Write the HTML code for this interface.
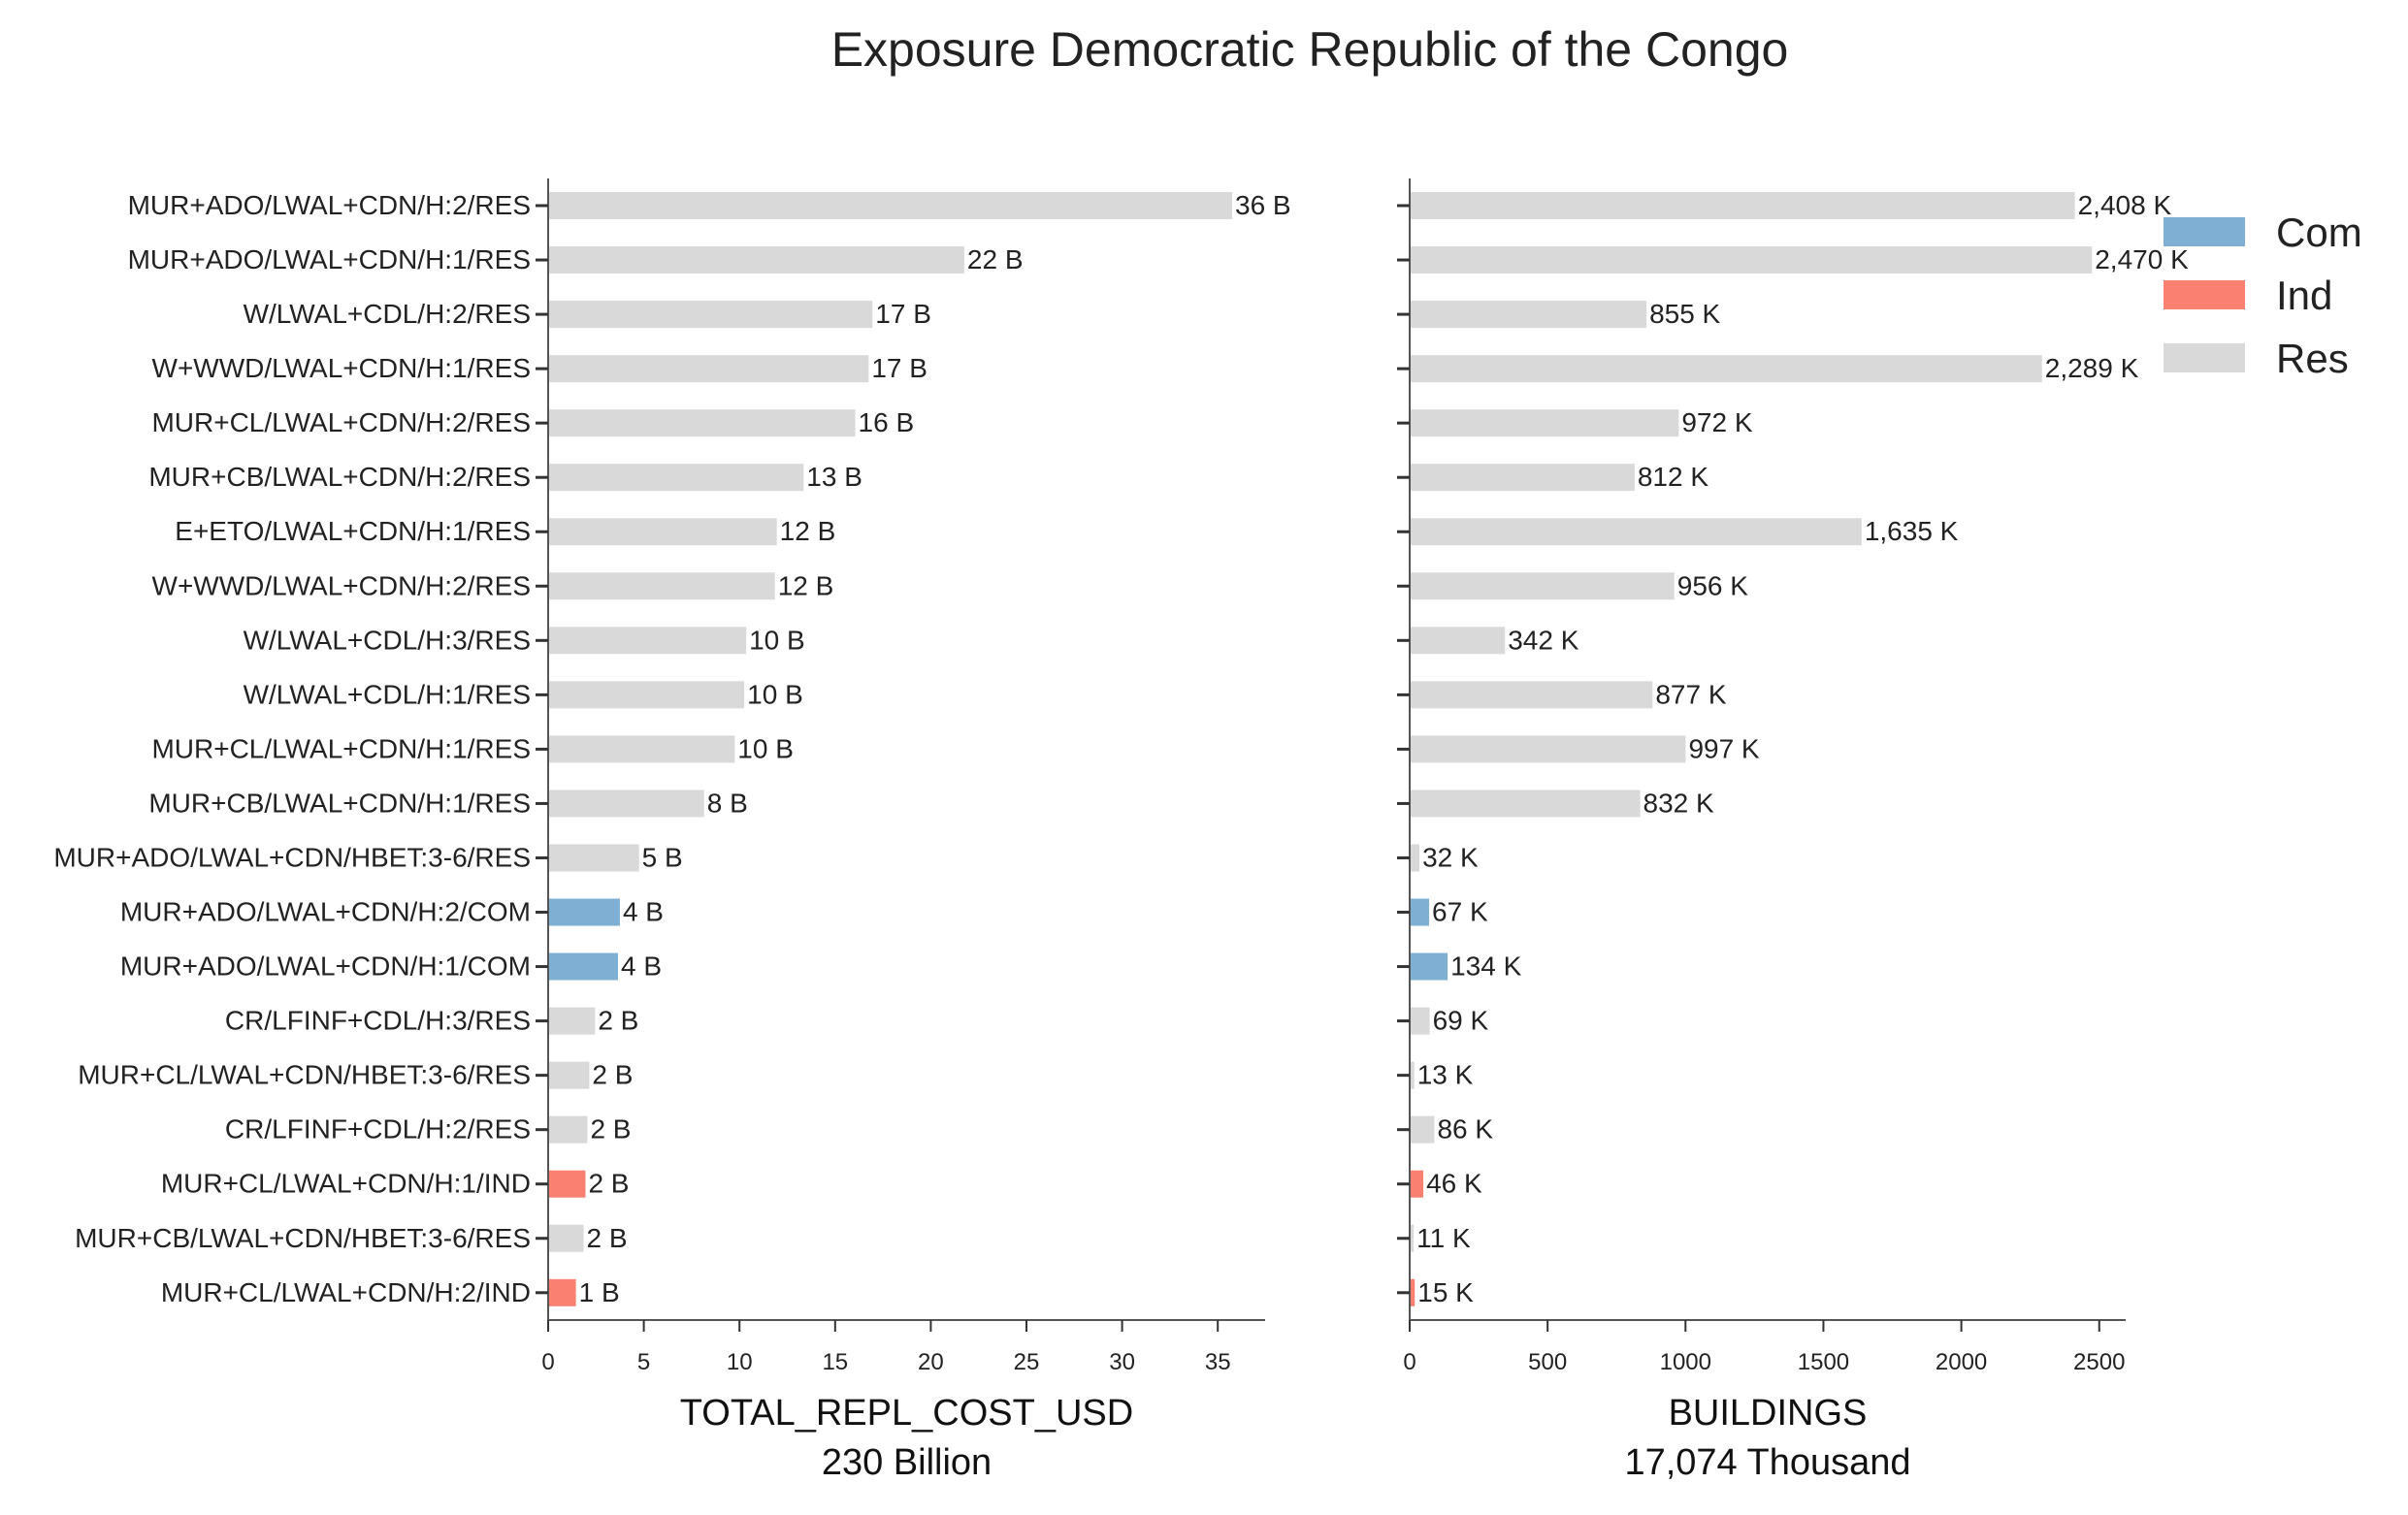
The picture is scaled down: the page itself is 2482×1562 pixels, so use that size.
<!DOCTYPE html>
<html><head><meta charset="utf-8"><style>
body{margin:0;background:#fff}
svg{display:block;font-family:"Liberation Sans",sans-serif}
</style></head><body>
<svg id="c" width="2482" height="1562"></svg>
<script>
const categories=["MUR+ADO/LWAL+CDN/H:2/RES","MUR+ADO/LWAL+CDN/H:1/RES","W/LWAL+CDL/H:2/RES","W+WWD/LWAL+CDN/H:1/RES","MUR+CL/LWAL+CDN/H:2/RES","MUR+CB/LWAL+CDN/H:2/RES","E+ETO/LWAL+CDN/H:1/RES","W+WWD/LWAL+CDN/H:2/RES","W/LWAL+CDL/H:3/RES","W/LWAL+CDL/H:1/RES","MUR+CL/LWAL+CDN/H:1/RES","MUR+CB/LWAL+CDN/H:1/RES","MUR+ADO/LWAL+CDN/HBET:3-6/RES","MUR+ADO/LWAL+CDN/H:2/COM","MUR+ADO/LWAL+CDN/H:1/COM","CR/LFINF+CDL/H:3/RES","MUR+CL/LWAL+CDN/HBET:3-6/RES","CR/LFINF+CDL/H:2/RES","MUR+CL/LWAL+CDN/H:1/IND","MUR+CB/LWAL+CDN/HBET:3-6/RES","MUR+CL/LWAL+CDN/H:2/IND"];
const occupancy=["Res","Res","Res","Res","Res","Res","Res","Res","Res","Res","Res","Res","Res","Com","Com","Res","Res","Res","Ind","Res","Ind"];
const costValues=[35.7,21.7,16.9,16.7,16.0,13.3,11.9,11.8,10.3,10.2,9.7,8.1,4.7,3.7,3.6,2.4,2.1,2.0,1.9,1.8,1.4];
const buildingValues=[2408,2470,855,2289,972,812,1635,956,342,877,997,832,32,67,134,69,13,86,46,11,15];
const costTicks=[0,5,10,15,20,25,30,35];
const bldTicks=[0,500,1000,1500,2000,2500];
const legendItems=["Com","Ind","Res"];
const colors={Com:"#7fb0d3",Ind:"#fa8072",Res:"#d9d9d9"};
const NS="http://www.w3.org/2000/svg";
const svg=document.getElementById('c');
function el(t,a,txt){const e=document.createElementNS(NS,t);for(const k in a)e.setAttribute(k,a[k]);if(txt!==undefined)e.textContent=txt;svg.appendChild(e);return e;}
const yTop=184,yBot=1361,row0=212,rowStep=56.04,barH=28;
function yPos(i){return row0+i*rowStep;}
function panel(p){
  const xs=v=>p.x0+v*p.scale;
  let ax=el('line',{x1:p.x0,y1:yTop,x2:p.x0,y2:yBot,stroke:'#555','stroke-width':2});
  
  ax=el('line',{x1:p.x0-1,y1:yBot,x2:p.xEnd,y2:yBot,stroke:'#555','stroke-width':2});
  
  p.ticks.forEach(t=>{
    const x=xs(t);
    const tk=el('line',{x1:x,y1:yBot,x2:x,y2:yBot+12,stroke:'#333','stroke-width':2});
    
    const tl=el('text',{x:x,y:yBot+51,'text-anchor':'middle','font-size':24,fill:'#222'},String(t));
    
  });
  p.values.forEach((v,i)=>{
    const y=yPos(i);
    const tk=el('line',{x1:p.x0-13,y1:y,x2:p.x0,y2:y,stroke:'#333','stroke-width':3});
    
    if(p.showCats){
      const cl=el('text',{x:p.x0-18,y:y+9,'text-anchor':'end','font-size':28,fill:'#222'},categories[i]);
      
    }
    const b=el('rect',{x:p.x0+1,y:y-barH/2,width:Math.max(0,xs(v)-p.x0),height:barH,fill:colors[occupancy[i]]});
    
    const vl=el('text',{x:xs(v)+4,y:y+9,'font-size':28,fill:'#222'},p.fmt(v));
    
  });
  const cx=(p.x0+p.xEnd)/2;
  let t=el('text',{x:cx,y:1469,'text-anchor':'middle','font-size':38,fill:'#111'},p.title);
  
  t=el('text',{x:cx,y:1520,'text-anchor':'middle','font-size':38,fill:'#111'},p.sub);
  
}
panel({name:'cost',x0:565,xEnd:1304,scale:19.72,ticks:costTicks,values:costValues,showCats:true,
  fmt:v=>Math.round(v)+' B',title:'TOTAL_REPL_COST_USD',sub:'230 Billion'});
panel({name:'buildings',x0:1453,xEnd:2191,scale:0.2843,ticks:bldTicks,values:buildingValues,showCats:false,
  fmt:v=>v.toLocaleString('en-US')+' K',title:'BUILDINGS',sub:'17,074 Thousand'});
const ti=el('text',{x:1350,y:68,'text-anchor':'middle','font-size':50,fill:'#222'},'Exposure Democratic Republic of the Congo');

legendItems.forEach((k,i)=>{
  const y=239+i*65;
  const r=el('rect',{x:2230,y:y-15,width:84,height:30,fill:colors[k]});
  
  const t=el('text',{x:2346,y:y+15,'font-size':42,fill:'#222'},k);
  
});
</script>
</body></html>
